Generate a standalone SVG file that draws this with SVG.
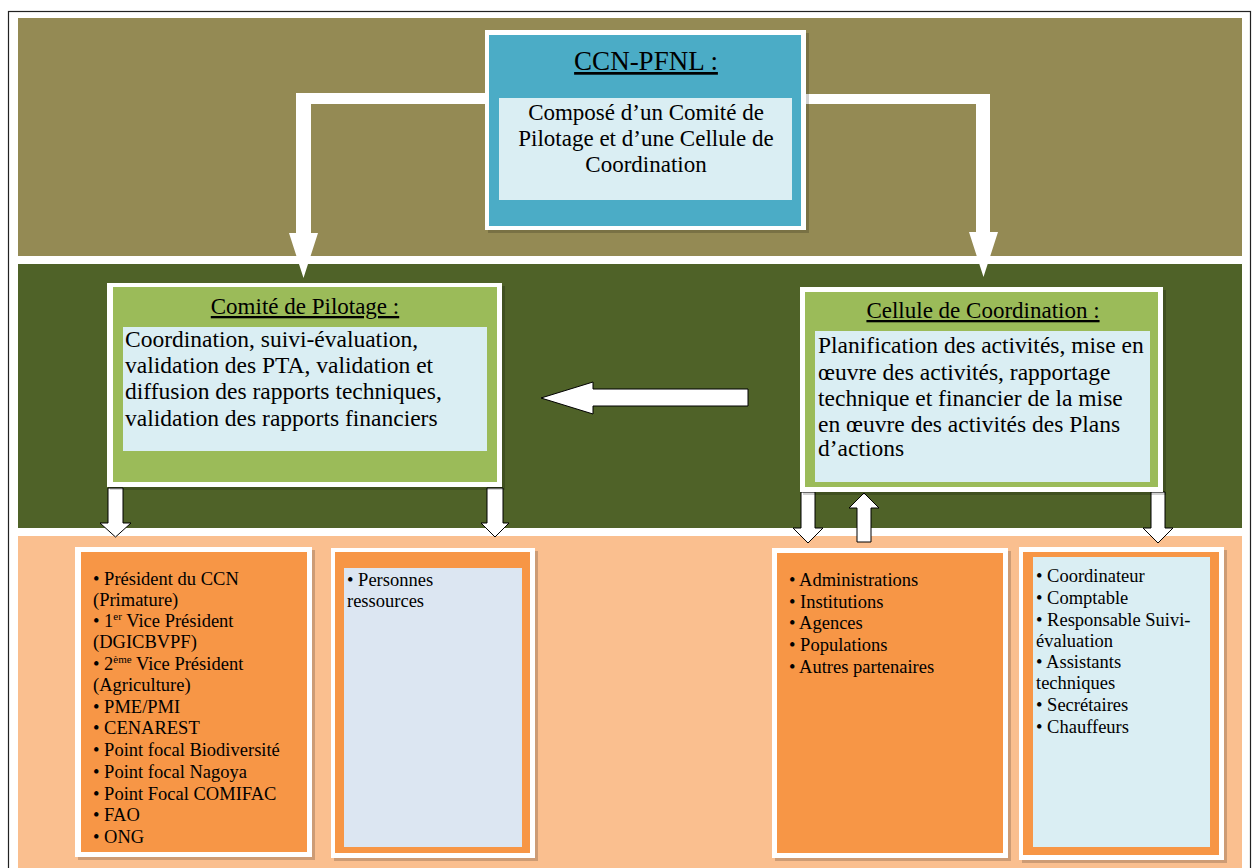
<svg xmlns="http://www.w3.org/2000/svg" width="1255" height="868" viewBox="0 0 1255 868">
<defs>
<style>
.t{font-family:"Liberation Serif","Times New Roman",serif;fill:#000}
.title{font-size:23px;text-decoration:underline;text-anchor:middle}
.body{font-size:23.5px}
.li{font-size:18.5px}
.frame{fill:#FFFFFF}
.shadow{fill:#000;opacity:0.18}
.arr{fill:#FFFFFF;stroke:#000;stroke-width:1}
.big{fill:#FFFFFF}
</style>
</defs>
<rect x="0" y="0" width="1255" height="868" fill="#FFFFFF"/>
<rect x="8.5" y="11.5" width="1242" height="870" fill="none" stroke="#222" stroke-width="1.2"/>
<g id="bands">
<rect x="18" y="18" width="1224" height="238" fill="#948A54"/>
<rect x="18" y="264" width="1224" height="264" fill="#4F6228"/>
<rect x="18" y="536" width="1224" height="332" fill="#FABF8F"/>
</g>
<g id="connectors">
<polygon class="big" points="490,93 296,93 296,233 289,233 303.5,278 318,233 311,233 311,104 490,104"/>
<polygon class="big" points="800,94 990,94 990,232 998,232 983.5,277 969,232 976,232 976,104 800,104"/>
<polygon class="arr" points="541,398 593,382 593,389 748,389 748,406 593,406 593,414"/>
<polygon class="arr" points="108,488 123,488 123,523 131,523 115.5,537 100,523 108,523"/>
<polygon class="arr" points="487,488 503,488 503,523 509,523 495,537 481,523 487,523"/>
<polygon class="arr" points="801,492 815,492 815,528 823,528 808,543 793,528 801,528"/>
<polygon class="arr" points="864,493 879,508 871,508 871,542 857,542 857,508 849,508"/>
<polygon class="arr" points="1151,492 1165,492 1165,528 1173,528 1158,543 1143,528 1151,528"/>
</g>
<g id="ccn">
<rect class="shadow" x="488" y="33" width="321" height="200"/>
<rect class="frame" x="485" y="30" width="321" height="200"/>
<rect x="489" y="35" width="312" height="191" fill="#4BACC6"/>
<rect x="499" y="98" width="293" height="102" fill="#DAEEF3"/>
<text class="t" x="646" y="70" font-size="27" text-anchor="middle" text-decoration="underline">CCN-PFNL :</text>
<text class="t" font-size="23" text-anchor="middle"><tspan x="646" y="120">Composé d’un Comité de</tspan><tspan x="646" y="146">Pilotage et d’une Cellule de</tspan><tspan x="646" y="172">Coordination</tspan></text>
</g>
<g id="pilotage">
<rect class="shadow" x="110" y="286" width="395" height="204"/>
<rect class="frame" x="107" y="283" width="395" height="204"/>
<rect x="113" y="287" width="384" height="195" fill="#9BBB59"/>
<rect x="123" y="327" width="364" height="124" fill="#DAEEF3"/>
<text class="t title" x="305" y="314">Comité de Pilotage :</text>
<text class="t body"><tspan x="125" y="347">Coordination, suivi-évaluation,</tspan><tspan x="125" y="373">validation des PTA, validation et</tspan><tspan x="125" y="399">diffusion des rapports techniques,</tspan><tspan x="125" y="426">validation des rapports financiers</tspan></text>
</g>
<g id="cellule">
<rect class="shadow" x="803" y="290" width="363" height="205"/>
<rect class="frame" x="800" y="287" width="363" height="205"/>
<rect x="805" y="292" width="353" height="195" fill="#9BBB59"/>
<rect x="815" y="331" width="335" height="151" fill="#DAEEF3"/>
<text class="t title" x="983" y="318">Cellule de Coordination :</text>
<text class="t body"><tspan x="818" y="353">Planification des activités, mise en</tspan><tspan x="818" y="380">œuvre des activités, rapportage</tspan><tspan x="818" y="406">technique et financier de la mise</tspan><tspan x="818" y="432">en œuvre des activités des Plans</tspan><tspan x="818" y="456">d’actions</tspan></text>
</g>
<g id="membres-pilotage">
<rect class="shadow" x="78" y="550" width="237" height="310"/>
<rect class="frame" x="75" y="547" width="237" height="310"/>
<rect x="81" y="552" width="226" height="300" fill="#F79646"/>
<text class="t li"><tspan x="93" y="585">• Président du CCN</tspan><tspan x="93" y="606">(Primature)</tspan><tspan x="93" y="627">• 1<tspan font-size="11" dy="-7">er</tspan><tspan dy="7"> Vice Président</tspan></tspan><tspan x="93" y="648">(DGICBVPF)</tspan><tspan x="93" y="670">• 2<tspan font-size="11" dy="-7">ème</tspan><tspan dy="7"> Vice Président</tspan></tspan><tspan x="93" y="691">(Agriculture)</tspan><tspan x="93" y="713">• PME/PMI</tspan><tspan x="93" y="734">• CENAREST</tspan><tspan x="93" y="756">• Point focal Biodiversité</tspan><tspan x="93" y="778">• Point focal Nagoya</tspan><tspan x="93" y="800">• Point Focal COMIFAC</tspan><tspan x="93" y="821">• FAO</tspan><tspan x="93" y="843">• ONG</tspan></text>
</g>
<g id="personnes-ressources">
<rect class="shadow" x="334" y="551" width="204" height="310"/>
<rect class="frame" x="331" y="548" width="204" height="310"/>
<rect x="335" y="552" width="195" height="301" fill="#F79646"/>
<rect x="344" y="568" width="178" height="279" fill="#DCE6F2"/>
<text class="t li"><tspan x="347" y="586">• Personnes</tspan><tspan x="347" y="607">ressources</tspan></text>
</g>
<g id="partenaires">
<rect class="shadow" x="775" y="551" width="236" height="310"/>
<rect class="frame" x="772" y="548" width="236" height="310"/>
<rect x="777" y="553" width="226" height="300" fill="#F79646"/>
<text class="t li"><tspan x="789" y="586">• Administrations</tspan><tspan x="789" y="608">• Institutions</tspan><tspan x="789" y="629">• Agences</tspan><tspan x="789" y="651">• Populations</tspan><tspan x="789" y="673">• Autres partenaires</tspan></text>
</g>
<g id="equipe">
<rect class="shadow" x="1022" y="550" width="205" height="313"/>
<rect class="frame" x="1019" y="547" width="205" height="313"/>
<rect x="1023" y="552" width="196" height="303" fill="#F79646"/>
<rect x="1033" y="557" width="177" height="290" fill="#DAEEF3"/>
<text class="t li"><tspan x="1036" y="582">• Coordinateur</tspan><tspan x="1036" y="604">• Comptable</tspan><tspan x="1036" y="626">• Responsable Suivi-</tspan><tspan x="1036" y="647">évaluation</tspan><tspan x="1036" y="668">• Assistants</tspan><tspan x="1036" y="689">techniques</tspan><tspan x="1036" y="711">• Secrétaires</tspan><tspan x="1036" y="733">• Chauffeurs</tspan></text>
</g>
</svg>
